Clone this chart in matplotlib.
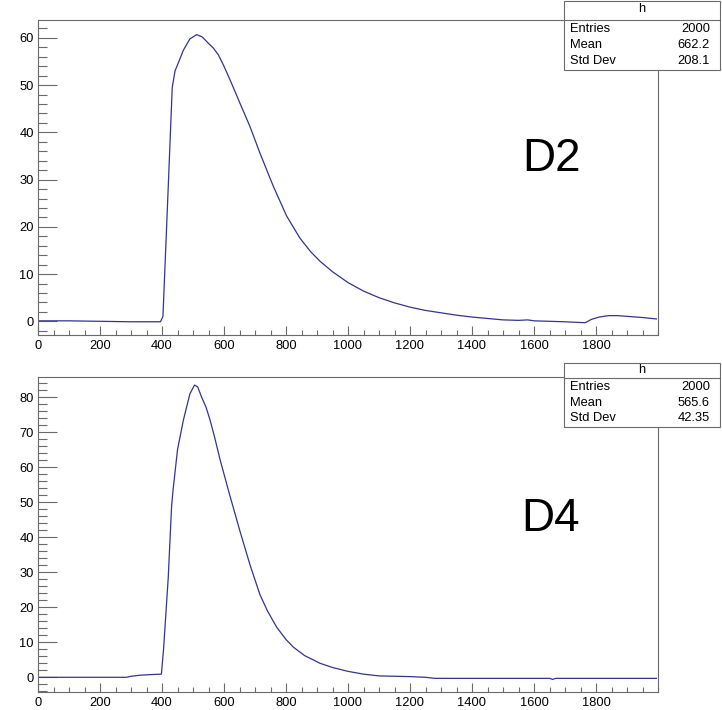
import matplotlib
matplotlib.use('Agg')
import matplotlib.pyplot as plt
from matplotlib.ticker import MultipleLocator, FixedLocator
from matplotlib.patches import Rectangle
from matplotlib.lines import Line2D

plt.rcParams['font.family'] = ['Liberation Sans', 'DejaVu Sans']

# ---------------- data ----------------
d2_x = [5, 100, 200, 300, 395, 403, 418, 433, 442, 469, 490, 512, 530, 549, 565,
        582, 600, 619, 652, 684, 716, 759, 802, 845, 880, 910, 950, 1000, 1050,
        1100, 1150, 1200, 1250, 1300, 1350, 1400, 1450, 1500, 1550, 1580, 1600,
        1650, 1700, 1765, 1785, 1810, 1840, 1870, 1910, 1950, 1995]
d2_y = [0.1, 0.1, 0.0, -0.1, -0.1, 1.0, 25.0, 49.5, 53.0, 57.4, 59.8, 60.7, 60.2,
        58.9, 57.9, 56.4, 54.0, 51.2, 46.1, 41.2, 35.6, 28.6, 22.3, 17.6, 14.7,
        12.7, 10.5, 8.2, 6.4, 5.0, 3.9, 3.0, 2.3, 1.8, 1.3, 0.9, 0.6, 0.3, 0.2, 0.3,
        0.1, 0.0, -0.1, -0.3, 0.4, 0.9, 1.2, 1.2, 1.0, 0.8, 0.5]

d4_x = [5, 100, 200, 285, 300, 330, 370, 398, 405, 420, 431, 436, 450, 469, 490,
        505, 515, 528, 542, 555, 570, 587, 619, 652, 684, 716, 740, 770, 800, 824,
        860, 910, 950, 1000, 1050, 1100, 1150, 1200, 1250, 1280, 1400, 1650, 1660,
        1670, 1995]
d4_y = [0.0, 0.0, 0.0, 0.0, 0.3, 0.6, 0.8, 0.9, 8.0, 28.3, 49.0, 53.8, 65.0, 73.5,
        81.0, 83.5, 83.0, 80.0, 77.2, 73.5, 68.5, 62.3, 51.9, 41.6, 32.1, 23.6,
        19.0, 14.3, 10.8, 8.6, 6.2, 4.0, 2.8, 1.7, 0.9, 0.4, 0.3, 0.2, 0.0, -0.3,
        -0.3, -0.3, -0.6, -0.3, -0.3]

x_ticks = [0, 200, 400, 600, 800, 1000, 1200, 1400, 1600, 1800]
d2_yticks = [0, 10, 20, 30, 40, 50, 60]
d4_yticks = [0, 10, 20, 30, 40, 50, 60, 70, 80]

hist_name = 'h'
stat_labels = ['Entries', 'Mean', 'Std Dev']
d2_stats = ['2000', '662.2', '208.1']
d4_stats = ['2000', '565.6', '42.35']
panel_names = ['D2', 'D4']

# ---------------- layout ----------------
W, H = 722, 710
fig = plt.figure(figsize=(W / 100, H / 100), dpi=100)


def fx(px):
    return px / W


def fy(py):
    return 1 - py / H


LINE_C = '#333399'
FRAME_C = '#6a6a6a'


def make_panel(top, bottom, xs, ys, ylim, yticks, name, name_xy):
    ax = fig.add_axes([fx(38), fy(bottom), fx(658) - fx(38), fy(top) - fy(bottom)])
    ax.plot(xs, ys, color=LINE_C, lw=0.9)
    ax.set_xlim(0, 2000)
    ax.set_ylim(*ylim)
    ax.xaxis.set_major_locator(FixedLocator(x_ticks))
    ax.xaxis.set_minor_locator(MultipleLocator(50))
    ax.yaxis.set_major_locator(FixedLocator(yticks))
    ax.yaxis.set_minor_locator(MultipleLocator(2))
    for s in ax.spines.values():
        s.set_color(FRAME_C)
        s.set_linewidth(0.8)
    ax.tick_params(axis='both', which='both', direction='in', color=FRAME_C,
                   width=0.8, labelsize=9.3, labelcolor='black',
                   top=False, right=False)
    ax.tick_params(axis='y', which='major', length=13.4, pad=3)
    ax.tick_params(axis='y', which='minor', length=6.7)
    ax.tick_params(axis='x', which='major', length=6.8, pad=3.5)
    ax.tick_params(axis='x', which='minor', length=3.4)
    fig.text(fx(name_xy[0]), fy(name_xy[1]), name, fontsize=33, ha='center',
             va='center', color='black')
    return ax


make_panel(19.5, 335, d2_x, d2_y, (-2.9, 63.9), d2_yticks, panel_names[0], (551, 159))
make_panel(377, 692, d4_x, d4_y, (-4.2, 85.8), d4_yticks, panel_names[1], (551, 519))


def stats_box(top, bottom, sep, rows_y, head_y, values):
    rect = Rectangle((fx(564), fy(bottom)), fx(720) - fx(564), fy(top) - fy(bottom),
                     transform=fig.transFigure, facecolor='white', edgecolor=FRAME_C,
                     lw=0.8, zorder=5)
    fig.add_artist(rect)
    fig.add_artist(Line2D([fx(564), fx(720)], [fy(sep), fy(sep)],
                          transform=fig.transFigure, color=FRAME_C, lw=0.8, zorder=6))
    fig.text(fx(642), fy(head_y), hist_name, ha='center', va='center',
             fontsize=9.3, zorder=7)
    for lab, val, yy in zip(stat_labels, values, rows_y):
        fig.text(fx(570), fy(yy), lab, ha='left', va='center', fontsize=9.3, zorder=7)
        fig.text(fx(710), fy(yy), val, ha='right', va='center', fontsize=9.3, zorder=7)


stats_box(1, 70, 19.5, [29, 45, 61], 9.5, d2_stats)
stats_box(363, 427, 378, [387, 403, 418], 370, d4_stats)

fig.savefig('out.png', dpi=100)
